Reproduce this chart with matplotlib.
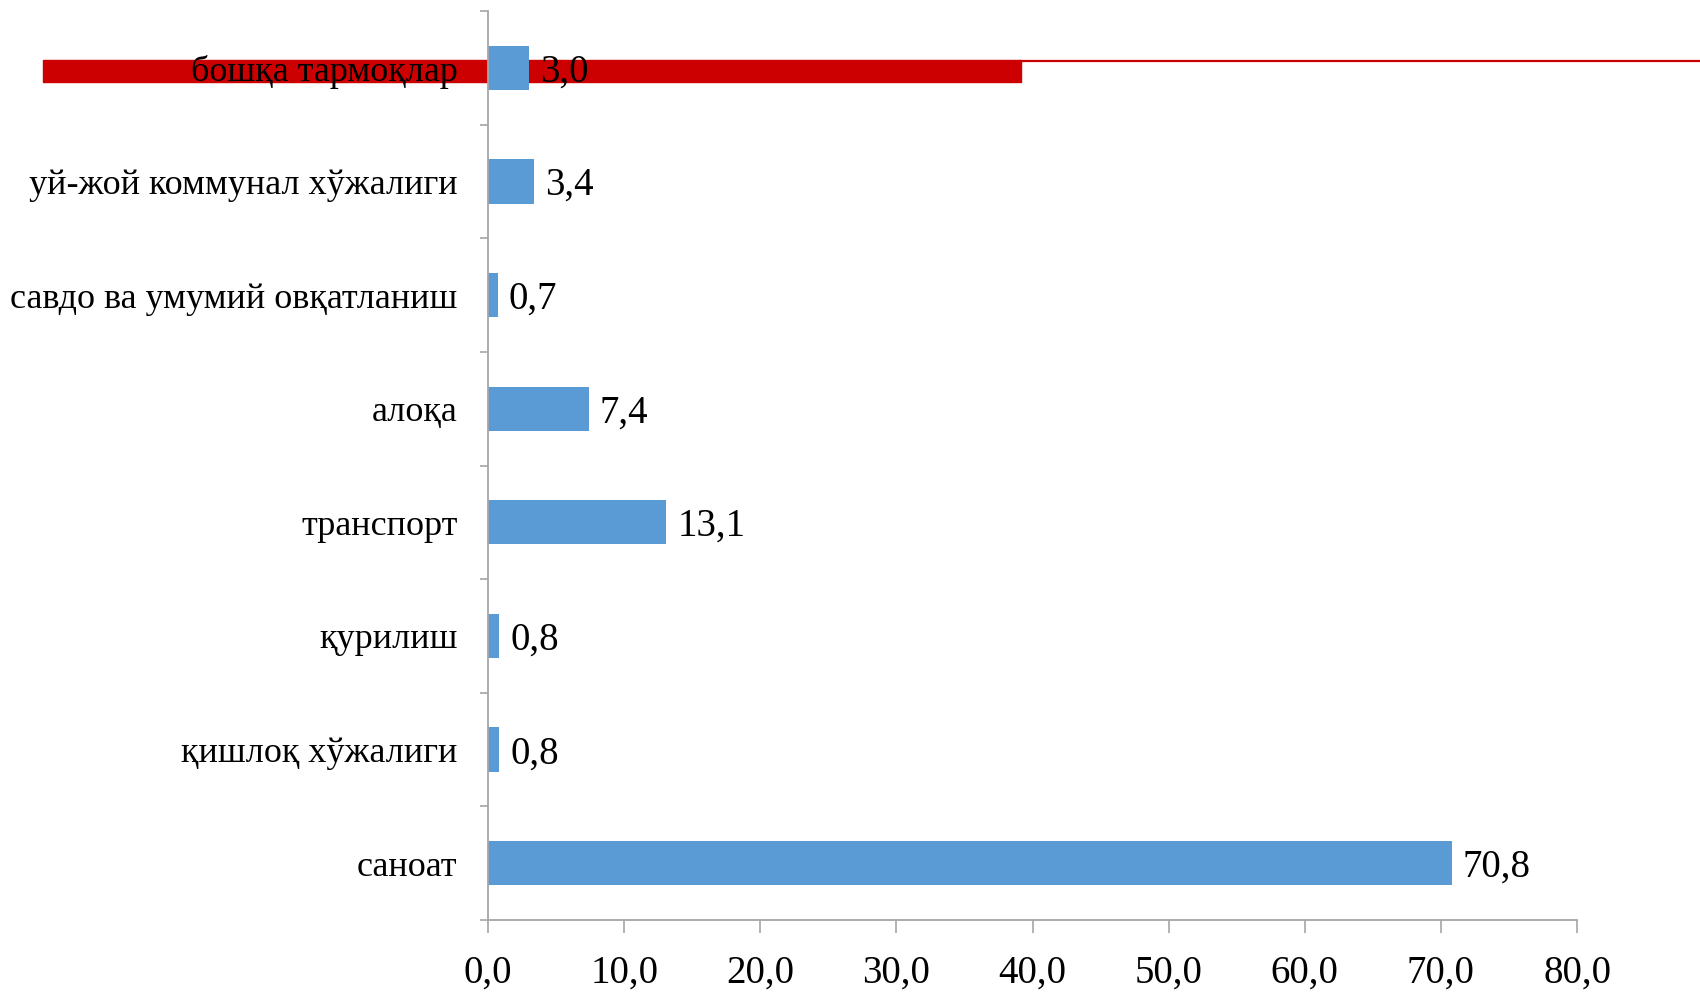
import numpy as np
import matplotlib.pyplot as plt
from matplotlib.patches import Rectangle
from matplotlib.lines import Line2D

# Данные (снизу вверх)
categories = ['саноат', 'қишлоқ хўжалиги', 'қурилиш', 'транспорт', 'алоқа',
              'савдо ва умумий овқатланиш', 'уй-жой коммунал хўжалиги',
              'бошқа тармоқлар']
values = [70.8, 0.8, 0.8, 13.1, 7.4, 0.7, 3.4, 3.0]
value_labels = ['70,8', '0,8', '0,8', '13,1', '7,4', '0,7', '3,4', '3,0']
xticks = [0, 10, 20, 30, 40, 50, 60, 70, 80]
xtick_labels = ['0,0', '10,0', '20,0', '30,0', '40,0', '50,0', '60,0', '70,0', '80,0']

plt.rcParams['font.family'] = ['Liberation Serif', 'DejaVu Serif']
fs_num = 28
fs_cat = 26
grey = '#A6A6A6'

fig = plt.figure(figsize=(17, 10), dpi=100)
ax = fig.add_axes([488 / 1700, 80 / 1000, 1089 / 1700, 909 / 1000])
ax.patch.set_visible(False)

pos = np.arange(len(categories))
ax.barh(pos, values, height=0.39, color='#5B9BD5')

for p, v, lab in zip(pos, values, value_labels):
    ax.annotate(lab, (v, p), xytext=(8, -3), textcoords='offset points',
                va='center', ha='left', fontsize=fs_num)

ax.set_xlim(0, 80)
ax.set_ylim(-0.5, len(categories) - 0.5)
ax.set_xticks(xticks)
ax.set_xticklabels(xtick_labels, fontsize=fs_num)
ax.set_yticks(pos)
ax.set_yticklabels(categories, fontsize=fs_cat)
ax.set_yticks(np.arange(-0.5, len(categories)), minor=True)

ax.tick_params(axis='y', which='major', length=0, pad=22)
ax.tick_params(axis='y', which='minor', length=6, width=1.2, color=grey)
ax.tick_params(axis='x', which='major', length=9, width=1.2, color=grey, pad=16)

for s in ['top', 'right']:
    ax.spines[s].set_visible(False)
for s in ['left', 'bottom']:
    ax.spines[s].set_color(grey)
    ax.spines[s].set_linewidth(1.3)

# красная полоса позади графика
fig.patches.append(Rectangle((43 / 1700, 1 - 82 / 1000), (1021 - 43) / 1700, 22 / 1000,
                             transform=fig.transFigure, color='#CC0000', zorder=-1))
fig.lines.append(Line2D([1021 / 1700, 1.0], [1 - 61 / 1000, 1 - 61 / 1000],
                        transform=fig.transFigure, color='#CC0000', linewidth=1.6,
                        zorder=-1))

plt.savefig('out.png', dpi=100)
